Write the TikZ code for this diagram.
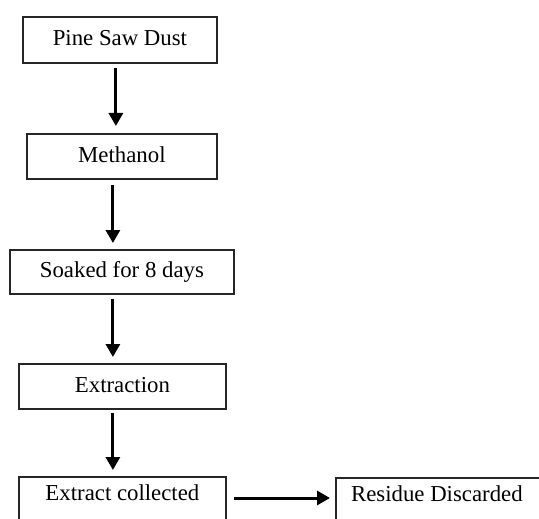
\documentclass[tikz,border=0pt]{standalone}
\usepackage{fontspec}
\setmainfont{Liberation Serif}
\usetikzlibrary{arrows.meta}
\begin{document}
\begin{tikzpicture}[x=0.5pt,y=-0.5pt,
  box/.style={draw=black!85, line width=0.9pt, rectangle, inner sep=0pt, anchor=north west,
    font=\fontsize{11.4}{13}\selectfont},
  arr/.style={line width=1.5pt, -{Triangle[length=6.5pt,width=7pt]}}]
\useasboundingbox (0,0) rectangle (539,518);
\clip (0,0) rectangle (539,518);
\fill[white] (0,0) rectangle (539,518);
\node[box, minimum width=97pt, minimum height=23pt] (b1) at (22,16) {\raisebox{1.5pt}{Pine Saw Dust}};
\node[box, minimum width=95pt, minimum height=22.5pt] (b2) at (26,133) {\raisebox{1.5pt}{Methanol}};
\node[box, minimum width=112pt, minimum height=22pt] (b3) at (9,249) {\raisebox{1.5pt}{Soaked for 8 days}};
\node[box, minimum width=103.5pt, minimum height=22.5pt] (b4) at (18,363) {\raisebox{1.5pt}{Extraction}};
\node[box, minimum width=103.5pt, minimum height=22.5pt, text depth=5pt] (b5) at (18,476) {\raisebox{2pt}{Extract collected}};
\node[box, minimum width=110pt, minimum height=22.5pt, text depth=5pt] (b6) at (335,477) {\hspace*{-9pt}\raisebox{2pt}{Residue Discarded}};
\draw[arr] ([shift={(-4,4)}]b1.south) -- ([shift={(-6,-7)}]b2.north);
\draw[arr] ([shift={(-9,5)}]b2.south) -- ([shift={(-9,-6)}]b3.north);
\draw[arr] ([shift={(-9,4)}]b3.south) -- ([shift={(-9.5,-6)}]b4.north);
\draw[arr] ([shift={(-9.5,3)}]b4.south) -- ([shift={(-9.5,-6)}]b5.north);
\draw[arr] ([shift={(7,0)}]b5.east |- 0,498) coordinate (h1) -- ([shift={(-5,0)}]b6.west |- h1);
\end{tikzpicture}
\end{document}
